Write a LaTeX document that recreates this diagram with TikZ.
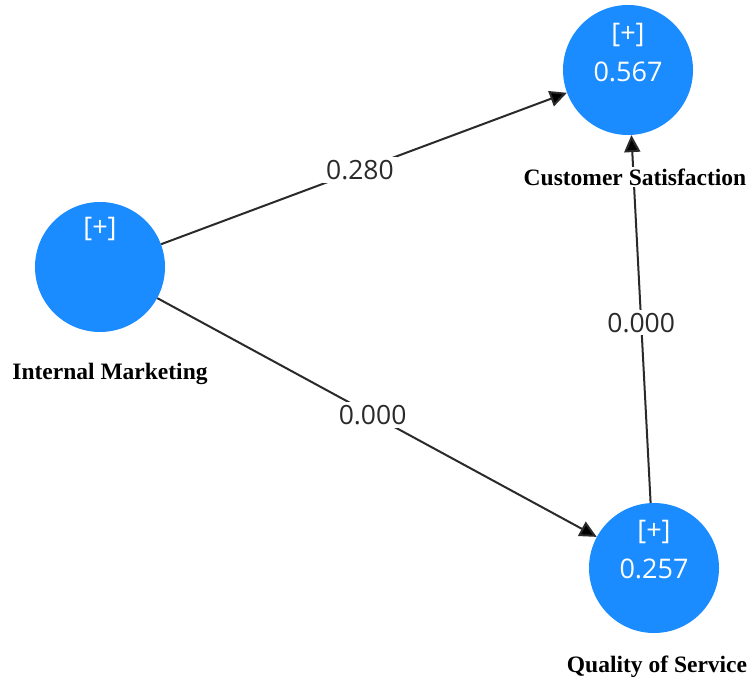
\documentclass[tikz,border=0pt]{standalone}
\usepackage{fontspec}
\setmainfont{Liberation Serif}
\newfontfamily\numfont{Open Sans}
\usetikzlibrary{arrows.meta}
\definecolor{lvblue}{HTML}{1A8CFF}
\definecolor{pathgray}{HTML}{2A2A2A}
\tikzset{
  latent/.style={circle, fill=lvblue, minimum size=130pt, inner sep=0pt},
  innertext/.style={text=white, font=\numfont\fontsize{27}{30}\selectfont, inner sep=0pt},
  varlabel/.style={fill=white, font=\bfseries\fontsize{23.5}{26}\selectfont, inner sep=2pt},
  path/.style={draw=pathgray, line width=2pt},
  effect/.style={path, -{Triangle[length=17pt, width=16pt, fill=black]}},
  coef/.style={fill=white, text=pathgray, font=\numfont\fontsize{26.5}{30}\selectfont, inner sep=3pt}
}
\begin{document}
\begin{tikzpicture}[x=1pt, y=-1pt]
\useasboundingbox (0,0) rectangle (751,687);
% constructs
\node[latent] (im) at (100,267) {};
\node[latent] (cs) at (628,70) {};
\node[latent] (qs) at (654,568) {};
% bracket markers and R-squared values
\node[innertext] (implus) at (100,229) {[+]};
\node[innertext] (csplus) at (628,35) {[+]};
\node[innertext] (csr2) at (628,72) {0.567};
\node[innertext] (qsplus) at (654,532) {[+]};
\node[innertext] (qsr2) at (654,569) {0.257};
% structural paths with coefficients
\draw[effect] (im) -- node[coef, pos=0.49] (c1) {0.280} (cs);
\draw[effect] (im) -- node[coef, pos=0.49] (c2) {0.000} (qs);
\draw[effect] (qs) -- node[coef, pos=0.49] (c3) {0.000} (cs);
% construct names, set over the paths
\node[varlabel] (imname) at (110,374) {Internal Marketing};
\node[varlabel] (csname) at (635,177) {Customer Satisfaction};
\node[varlabel] (qsname) at (657,667) {Quality of Service};
\end{tikzpicture}
\end{document}
